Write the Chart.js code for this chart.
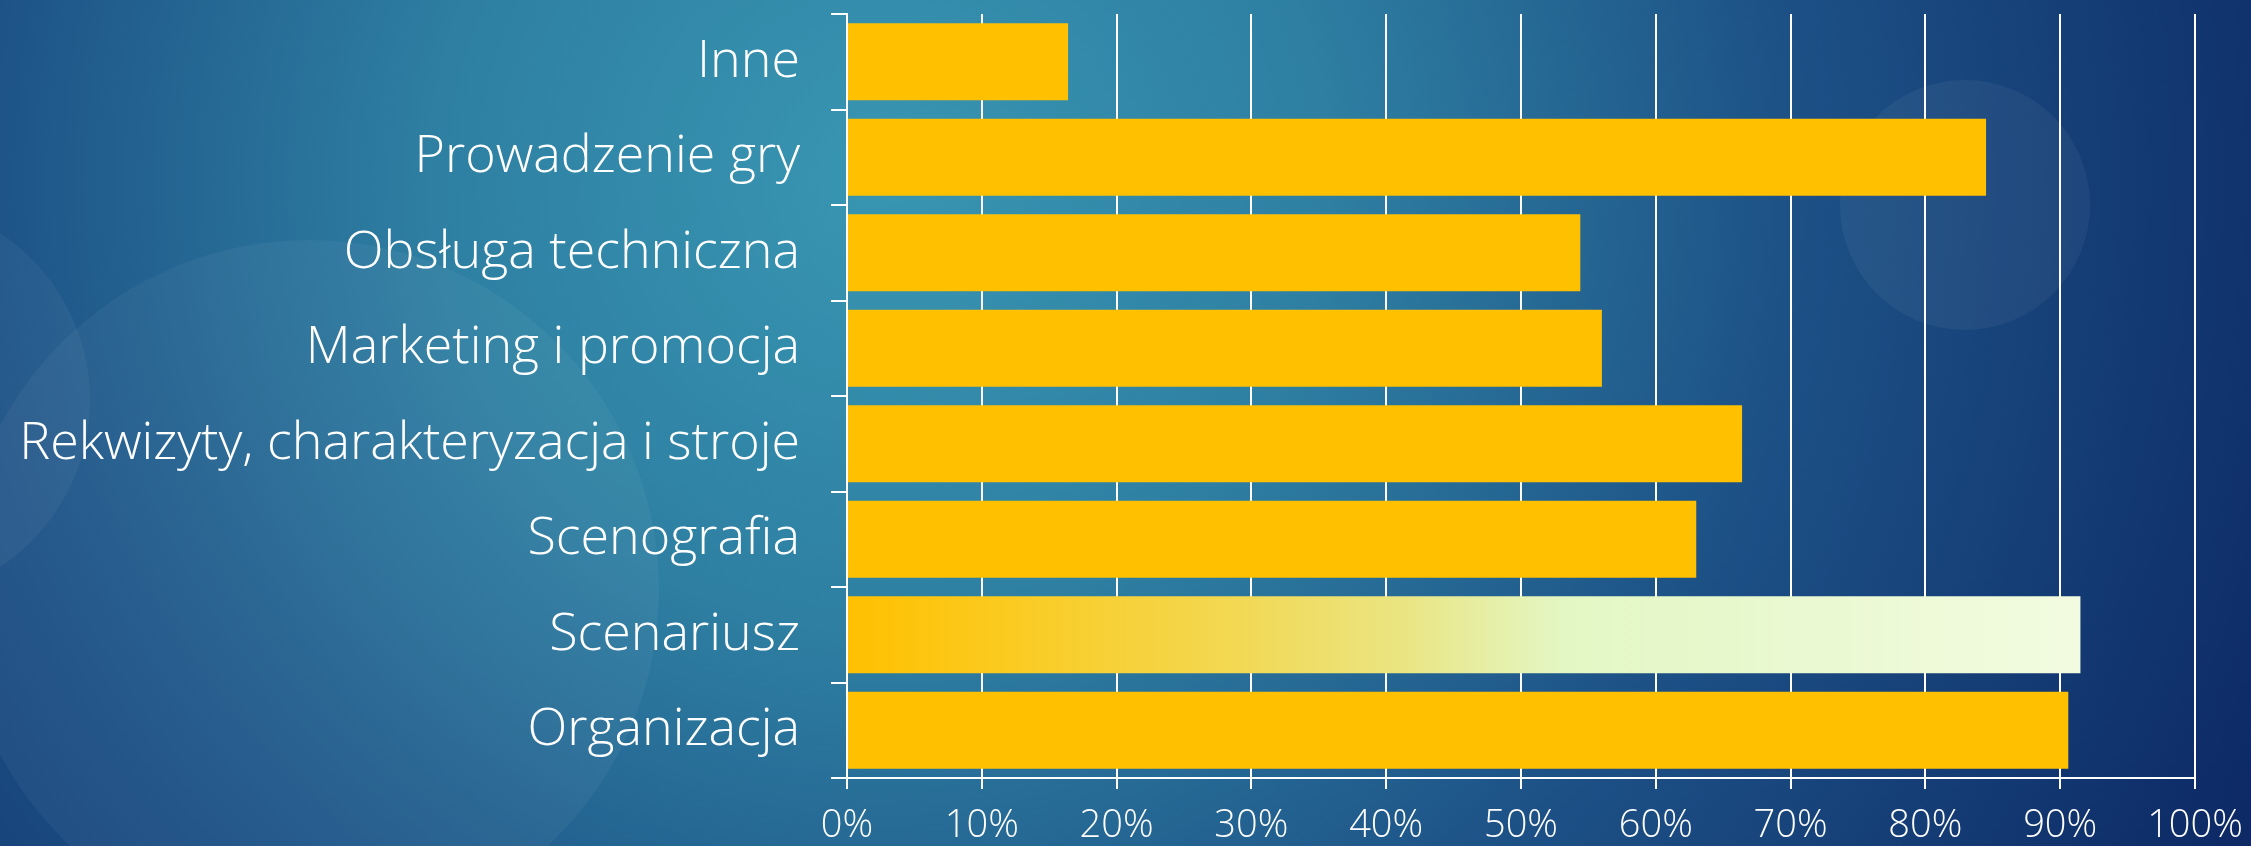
<!DOCTYPE html>
<html>
<head>
<meta charset="utf-8">
<script src="https://cdn.jsdelivr.net/npm/chart.js@4"></script>
<style>
  html, body { margin: 0; padding: 0; background: #1d4d80; }
  #wrap { width: 2251px; height: 846px; position: relative; }
</style>
</head>
<body>
<div id="wrap"><canvas id="chart"></canvas></div>
<script>
// data
const categories = [
  'Inne',
  'Prowadzenie gry',
  'Obsługa techniczna',
  'Marketing i promocja',
  'Rekwizyty, charakteryzacja i stroje',
  'Scenografia',
  'Scenariusz',
  'Organizacja'
];
const shares = [16.4, 84.5, 54.4, 56.0, 66.4, 63.0, 91.5, 90.6];
const tickValues = [0, 10, 20, 30, 40, 50, 60, 70, 80, 90, 100];
const highlighted = 'Scenariusz';

const FONT = "'Open Sans', 'DejaVu Sans', sans-serif";

// background (slide look) drawn before everything
const slideBackground = {
  id: 'slideBackground',
  beforeDraw(chart) {
    const c = chart.ctx;
    const w = chart.width, h = chart.height;
    c.save();
    const g = c.createRadialGradient(880, 180, 0, 880, 180, 1500);
    g.addColorStop(0, '#3896b2');
    g.addColorStop(0.3, '#2e7fa2');
    g.addColorStop(0.6, '#1d5287');
    g.addColorStop(1, '#0d2a66');
    c.fillStyle = g;
    c.fillRect(0, 0, w, h);
    // faint bubbles
    c.fillStyle = 'rgba(255,255,255,0.045)';
    c.beginPath(); c.arc(309, 590, 350, 0, Math.PI * 2); c.fill();
    c.beginPath(); c.arc(-110, 400, 200, 0, Math.PI * 2); c.fill();
    c.fillStyle = 'rgba(255,255,255,0.05)';
    c.beginPath(); c.arc(1965, 205, 125, 0, Math.PI * 2); c.fill();
    c.restore();
  }
};

function barColor(ctx) {
  const chart = ctx.chart;
  if (categories[ctx.dataIndex] !== highlighted) return '#ffc000';
  const area = chart.chartArea;
  if (!area) return '#ffc000';
  const x0 = chart.scales.x.getPixelForValue(0);
  const x1 = chart.scales.x.getPixelForValue(shares[ctx.dataIndex]);
  const g = chart.ctx.createLinearGradient(x0, 0, x1, 0);
  g.addColorStop(0, '#ffc000');
  g.addColorStop(0.12, '#fbca1e');
  g.addColorStop(0.3, '#f3d74e');
  g.addColorStop(0.45, '#eae582');
  g.addColorStop(0.58, '#e3f7c4');
  g.addColorStop(1, '#f2fbe0');
  return g;
}

new Chart(document.getElementById('chart'), {
  type: 'bar',
  data: {
    labels: categories,
    datasets: [{
      data: shares,
      backgroundColor: barColor,
      borderWidth: 0,
      barPercentage: 0.805,
      categoryPercentage: 1
    }]
  },
  options: {
    indexAxis: 'y',
    responsive: true,
    maintainAspectRatio: false,
    animation: false,
    devicePixelRatio: 1,
    layout: { padding: { top: 14, right: 56, left: 0, bottom: 0 } },
    plugins: { legend: { display: false }, tooltip: { enabled: false } },
    scales: {
      x: {
        min: 0,
        max: 100,
        afterBuildTicks(scale) {
          scale.ticks = tickValues.map(v => ({ value: v }));
        },
        afterFit(scale) {
          scale.height = 68;
          scale.paddingLeft = 0;
          scale.paddingRight = 0;
        },
        grid: { color: '#ffffff', lineWidth: 2, tickLength: 11 },
        border: { color: '#ffffff', width: 2 },
        ticks: {
          color: '#ffffff',
          padding: 14,
          font: { family: FONT, size: 38, weight: 300 },
          callback: v => v + '%'
        }
      },
      y: {
        afterFit(scale) {
          scale.width = 847;
          scale.paddingTop = 0;
          scale.paddingBottom = 0;
        },
        grid: { drawOnChartArea: false, color: '#ffffff', lineWidth: 2, tickLength: 16 },
        border: { color: '#ffffff', width: 2 },
        ticks: {
          color: '#ffffff',
          padding: 31,
          font: { family: FONT, size: 52, weight: 300 }
        }
      }
    }
  },
  plugins: [slideBackground]
});
</script>
</body>
</html>
